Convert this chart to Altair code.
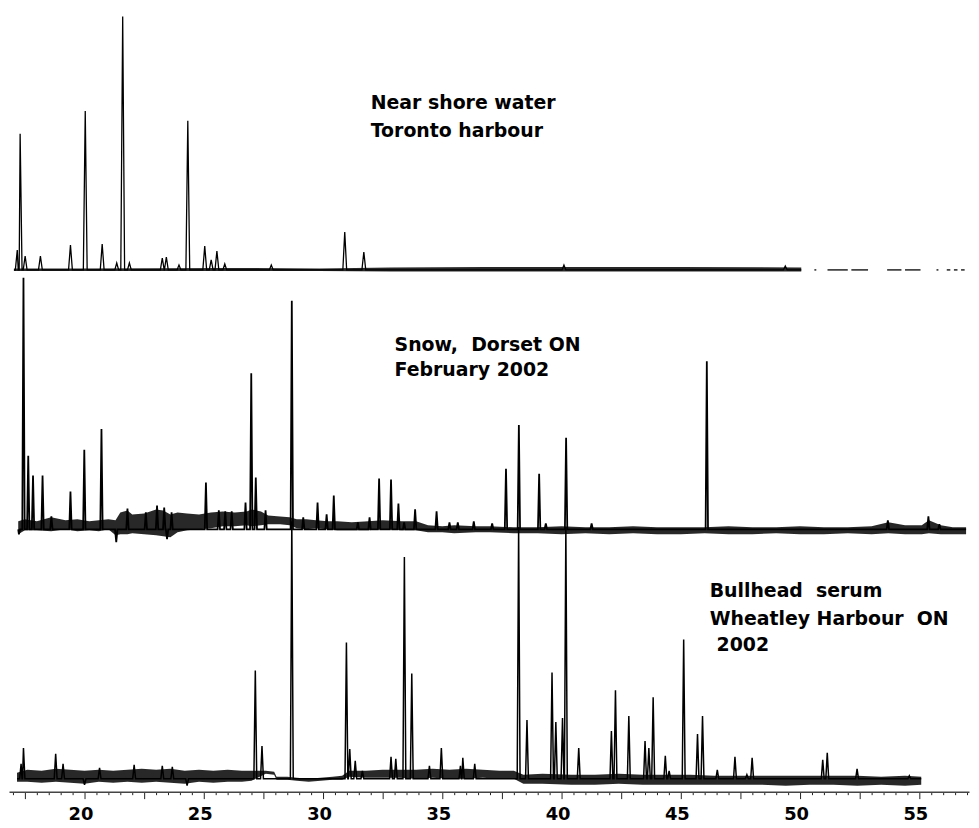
import altair as alt
import pandas as pd

NB = "\u00a0"

# ---------------- axis ----------------
X_DOMAIN = [16.833, 57.083]
AXIS_LABELS = [20, 25, 30, 35, 40, 45, 50, 55]
MINOR_TICKS = [17.0 + 0.5 * i for i in range(81)]

# baseline offsets of the three stacked traces (display units)
OFFSET_TOP, OFFSET_MID, OFFSET_BOT = 525, 264, 13

# ---------------- top trace: Near shore water, Toronto harbour ----------------
TOP_START, TOP_END = 17.04, 50.05
TOP_PEAK_T = [17.18, 17.30, 17.51, 18.15, 19.41, 20.03, 20.74, 21.35, 21.60, 21.88,
              23.26, 23.43, 23.96, 24.33, 25.04, 25.31, 25.55, 25.88, 27.83,
              30.91, 31.71, 40.10, 49.38]
TOP_PEAK_H = [20, 137, 14, 14, 25, 160, 26, 7, 255, 7,
              12, 13, 5, 150, 24, 10, 19, 6, 5,
              38, 18, 5, 4]
TOP_BROKEN = [(50.6, 50.68), (51.15, 52.0), (52.15, 52.85), (53.65, 54.25), (54.4, 55.05),
              (55.72, 55.8), (56.15, 56.3), (56.45, 56.6), (56.75, 56.9)]
TOP_BAND_T = [17.04, 19.84, 25.85, 29.85, 32.85, 36.86, 40.86, 44.87, 50.05]
TOP_BAND_HI = [1.5, 1.5, 2, 1.5, 2.5, 3, 3, 3, 2.5]
TOP_BAND_LO = [-1, -1, -1, -1, -1.5, -1.5, -1.5, -1.5, -1.5]

# ---------------- middle trace: Snow, Dorset ON ----------------
MID_START, MID_END = 17.22, 56.96
MID_PEAK_T = [17.25, 17.44, 17.64, 17.84, 18.24, 18.61, 19.41, 19.99, 20.71, 21.33,
              21.80, 22.57, 23.04, 23.34, 23.46, 23.65, 25.09, 25.63, 25.90, 26.17,
              26.75, 26.99, 27.18, 27.59, 28.69, 29.17, 29.77, 30.15, 30.45, 31.46,
              31.95, 32.35, 32.85, 33.16, 33.40, 33.86, 34.76, 35.30, 35.65, 36.32,
              37.09, 37.67, 38.21, 39.06, 39.34, 40.19, 41.26, 46.09, 53.68, 55.38,
              55.84]
MID_PEAK_H = [-5, 253, 74, 54, 54, 13, 38, 80, 101, -13,
              21, 17, 24, 22, -10, 17, 47, 19, 18, 18,
              27, 157, 52, 19, 230, 12, 27, 15, 34, 7,
              12, 51, 50, 26, 7, 20, 18, 7, 7, 8,
              6, 61, 105, 56, 6, 92, 6, 169, 9, 13,
              5]
MID_BAND_T = [17.22, 17.5, 18.0, 18.6, 19.2, 19.7, 20.2, 20.6, 21.0, 21.3,
              21.5, 21.8, 22.0, 22.5, 23.0, 23.3, 23.6, 23.9, 24.3, 24.8,
              25.3, 25.8, 26.3, 26.8, 27.0, 27.4, 27.7, 28.2, 28.6, 28.9,
              29.3, 29.7, 30.2, 30.6, 31.2, 31.9, 32.5, 33.3, 33.9, 34.4,
              35.0, 35.5, 36.4, 37.0, 38.0, 39.0, 40.0, 41.0, 42.0, 43.0,
              44.0, 45.0, 46.0, 47.0, 48.0, 49.0, 50.0, 51.0, 52.0, 53.0,
              53.7, 54.4, 55.1, 55.4, 55.9, 56.4, 56.96]
MID_BAND_HI = [8, 10, 8, 12, 9, 10, 8, 9, 10, 9,
               17, 19, 15, 16, 20, 19, 15, 17, 16, 15,
               17, 18, 17, 18, 20, 18, 14, 13, 12, 10,
               10, 9, 8, 8, 7, 8, 9, 8, 8, 4,
               3, 4, 3, 3, 2, 2, 3, 2, 2, 3,
               2, 2, 2, 3, 2, 2, 3, 2, 2, 3,
               7, 4, 4, 9, 4, 2, 2]
MID_BAND_LO = [-5, -1, -1, -2, 0, -2, -1, -2, 0, -6,
               -5, -5, -4, -5, -6, -7, -8, -3, -1, 0,
               1, 3, 3, 4, 3, 4, 5, 5, 4, 1,
               0, 1, 0, -1, -1, -1, 0, -1, -1, -3,
               -3, -4, -3, -3, -4, -4, -5, -4, -5, -4,
               -5, -5, -4, -5, -5, -4, -5, -5, -4, -5,
               -4, -5, -5, -4, -5, -5, -5]

# ---------------- bottom trace: Bullhead serum, Wheatley Harbour ON ----------------
BOT_START, BOT_END = 17.17, 55.08
BOT_PEAK_T = [17.34, 17.44, 18.79, 19.10, 20.00, 20.63, 22.08, 23.26, 23.68, 24.30,
              27.16, 27.44, 28.69, 30.98, 31.12, 31.35, 31.65, 32.85, 33.05, 33.41,
              33.72, 34.46, 34.96, 35.76, 35.86, 36.36, 38.20, 38.55, 39.60, 39.76,
              40.04, 40.18, 40.72, 42.09, 42.26, 42.82, 43.50, 43.66, 43.84, 44.35,
              44.51, 45.12, 45.70, 45.91, 46.53, 47.27, 47.77, 47.99, 50.95, 51.14,
              52.39, 54.58]
BOT_PEAK_H = [15, 31, 25, 15, -6, 11, 14, 13, 12, -7,
              109, 33, 259, 137, 30, 18, 8, 22, 20, 223,
              106, 13, 31, 13, 21, 15, 253, 59, 107, 57,
              61, 253, 31, 48, 89, 63, 38, 31, 82, 23,
              8, 140, 45, 63, 9, 22, 4, 21, 19, 26,
              10, 3]
BOT_BAND_T = [17.17, 17.6, 18.2, 18.8, 19.4, 20.0, 20.6, 21.2, 21.8, 22.4,
              23.0, 23.6, 24.2, 24.8, 25.4, 26.0, 26.6, 27.0, 27.6, 27.95,
              28.05, 28.5, 28.9, 29.4, 29.9, 30.4, 30.8, 31.1, 31.8, 32.5,
              33.2, 33.9, 34.6, 35.3, 36.0, 36.7, 37.4, 38.0, 38.4, 39.2,
              40.4, 41.4, 42.4, 43.4, 44.4, 45.4, 46.4, 47.4, 48.4, 49.4,
              50.4, 51.4, 52.4, 53.4, 54.4, 55.08]
BOT_BAND_HI = [6, 9, 8, 10, 9, 8, 9, 8, 9, 10,
               9, 10, 8, 9, 8, 9, 8, 8, 8, 7,
               2, 2, 1, 0, 1, 2, 3, 8, 8, 9,
               9, 9, 10, 9, 10, 9, 8, 8, 4, 5,
               4, 4, 5, 4, 4, 4, 3, 3, 3, 3,
               3, 3, 3, 2, 3, 2]
BOT_BAND_LO = [-3, -3, -4, -3, -4, -5, -3, -4, -3, -4,
               -3, -4, -5, -3, -4, -3, -3, -2, 5, 4,
               -1, -1, -2, -3, -2, -1, -1, 2, 1, 1,
               1, 0, 1, 0, 0, 1, 0, 0, -5, -5,
               -6, -6, -5, -6, -6, -6, -6, -6, -6, -7,
               -6, -6, -7, -6, -7, -6]

# ---------------- labels ----------------
LABELS = [
    ("Near shore water", 364, 93),
    ("Toronto harbour", 364, 121),
    ("Snow," + NB + NB + "Dorset ON", 388, 337),
    ("February 2002", 388, 362),
    ("Bullhead" + NB + NB + "serum", 705, 584),
    ("Wheatley Harbour" + NB + NB + "ON", 705, 612),
    ("2002", 712, 638),
]


def trace_rows(name, start, end, peak_t, peak_h, half_width, offset, seg=0):
    pts = [(start, 0.0), (end, 0.0)]
    for t, h in zip(peak_t, peak_h):
        pts += [(t - half_width, 0.0), (t, float(h)), (t + half_width, 0.0)]
    pts = sorted(p for p in pts if start <= p[0] <= end)
    return [{"trace": name, "seg": seg, "t": t, "v": offset + v} for t, v in pts]


def band_rows(name, ts, hi, lo, offset):
    assert len(ts) == len(hi) == len(lo), name
    return [{"trace": name, "t": t, "hi": offset + h, "lo": offset + l}
            for t, h, l in zip(ts, hi, lo)]


assert len(TOP_PEAK_T) == len(TOP_PEAK_H)
assert len(MID_PEAK_T) == len(MID_PEAK_H)
assert len(BOT_PEAK_T) == len(BOT_PEAK_H)

top_rows = trace_rows("top", TOP_START, TOP_END, TOP_PEAK_T, TOP_PEAK_H, 0.08, OFFSET_TOP)
for i, (a, b) in enumerate(TOP_BROKEN):
    top_rows += [{"trace": "top", "seg": i + 1, "t": a, "v": OFFSET_TOP},
                 {"trace": "top", "seg": i + 1, "t": b, "v": OFFSET_TOP}]
mid_rows = trace_rows("mid", MID_START, MID_END, MID_PEAK_T, MID_PEAK_H, 0.05, OFFSET_MID)
bot_rows = trace_rows("bot", BOT_START, BOT_END, BOT_PEAK_T, BOT_PEAK_H, 0.06, OFFSET_BOT)

bands = pd.DataFrame(
    band_rows("top", TOP_BAND_T, TOP_BAND_HI, TOP_BAND_LO, OFFSET_TOP)
    + band_rows("mid", MID_BAND_T, MID_BAND_HI, MID_BAND_LO, OFFSET_MID)
    + band_rows("bot", BOT_BAND_T, BOT_BAND_HI, BOT_BAND_LO, OFFSET_BOT)
)

x_scale = alt.Scale(domain=X_DOMAIN, nice=False, zero=False)
y_scale = alt.Scale(domain=[0, 786], nice=False, zero=False)

x_axis = alt.Axis(
    values=MINOR_TICKS,
    labelExpr="indexof(" + str(AXIS_LABELS) + ", datum.value) >= 0 ? format(datum.value, 'd') : ''",
    title=None, grid=False, labelOverlap=False, labelFlush=False,
    labelFont="DejaVu Sans", labelFontWeight="bold", labelFontSize=18, labelColor="black",
    labelPadding=7, labelOffset=-4,
    tickSize={"condition": {"test": "datum.value % 2.5 === 0", "value": 7}, "value": 3},
    tickColor="#222", tickWidth=1,
    domainColor="#444", domainWidth=1.5,
)
X = alt.X("t:Q", scale=x_scale, axis=x_axis)

band_layer = alt.Chart(bands).mark_area(color="#111", opacity=0.9, interpolate="linear").encode(
    x=X,
    y=alt.Y("lo:Q", scale=y_scale, axis=None),
    y2="hi:Q",
    detail="trace:N",
)


def line_layer(rows, width):
    return alt.Chart(pd.DataFrame(rows)).mark_line(color="black", strokeWidth=width).encode(
        x=X,
        y=alt.Y("v:Q", scale=y_scale, axis=None),
        detail="seg:N",
        order="t:Q",
    )


layers = [band_layer, line_layer(top_rows, 1.3), line_layer(mid_rows, 1.8), line_layer(bot_rows, 1.5)]

for text, px, py in LABELS:
    layers.append(
        alt.Chart(alt.Data(values=[{}])).mark_text(
            font="DejaVu Sans", fontWeight="bold", fontSize=19, align="left",
            baseline="middle", color="black",
        ).encode(x=alt.value(px), y=alt.value(py), text=alt.value(text))
    )

chart = alt.layer(*layers).properties(
    width=966, height=786,
    autosize=alt.AutoSizeParams(type="none"),
    padding={"left": 1, "top": 0, "right": 2, "bottom": 32},
).configure_view(stroke=None)

chart.save("out.html", embed_options={"renderer": "svg", "actions": False})
